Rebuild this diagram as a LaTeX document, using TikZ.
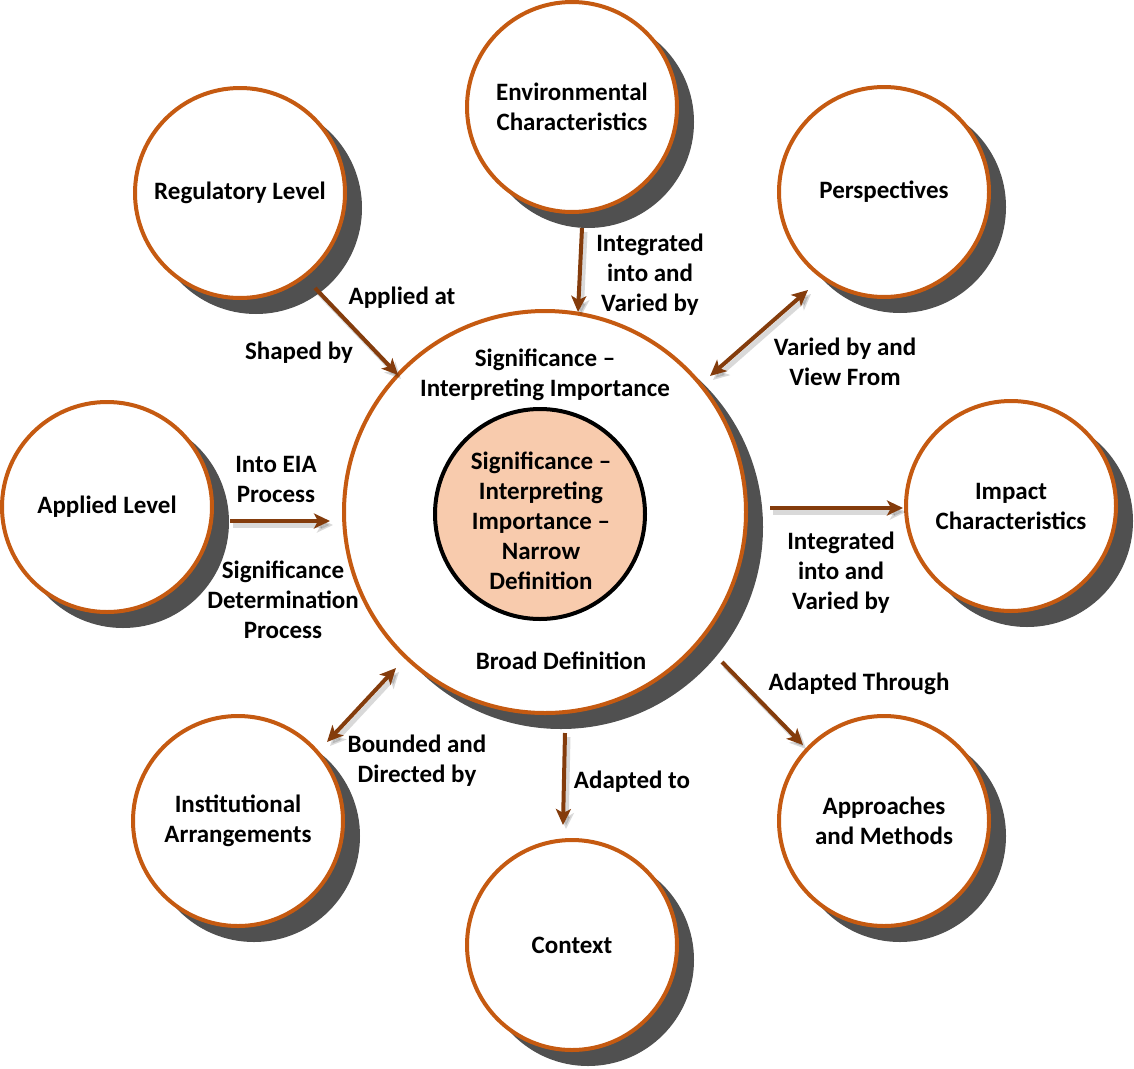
\documentclass[tikz,border=0pt]{standalone}
\usepackage{fontspec}
\setmainfont{Carlito}
\usetikzlibrary{arrows.meta,calc,backgrounds}
\definecolor{ring}{HTML}{C55A11}
\definecolor{shadowc}{HTML}{505050}
\definecolor{arrowc}{HTML}{843C0C}
\definecolor{peach}{HTML}{F8CBAD}
\newcommand\myarrow[3]{%
  \draw[arrsh,#3] ($#1+(3,4)$) -- ($#2+(3,4)$);
  \draw[arr,#3] ($#1$) -- ($#2$);}
\begin{document}
\begin{tikzpicture}[x=1pt,y=-1pt,
  lbl/.style={font=\bfseries\fontsize{25}{30}\selectfont, align=center, text=black, inner sep=0pt},
  bubble/.style={circle, draw=ring, line width=4pt, fill=white, minimum size=210pt, inner sep=0pt, lbl},
  tipA/.tip={Stealth[length=16pt,width=15pt,inset=4pt]},
  arr/.style={draw=arrowc, line width=4pt, -tipA},
  arrsh/.style={draw=black, opacity=0.15, line width=5pt, -tipA},
  both/.style={tipA-tipA},
]
\useasboundingbox (0,0) rectangle (1134,1068);
% circles
\node[bubble, minimum size=402pt] (big) at (545,512) {};
\node[circle, draw=black, line width=4pt, fill=peach, minimum size=210pt, inner sep=0pt] (inner) at (540,514) {};
\node[lbl] (innertxt) at (541,521) {Significance --\\Interpreting\\Importance --\\Narrow\\Definition};
\node[lbl] (bigtop) at (545,375) {Significance --\\Interpreting Importance};
\node[lbl] (bigbot) at (561,661) {Broad Definition};

\node[bubble] (env) at (572,107) {Environmental\\Characteristics};
\node[bubble] (reg) at (240,193) {Regulatory Level};
\node[bubble] (persp) at (884,192) {Perspectives};
\node[bubble] (applied) at (107,507) {Applied Level};
\node[bubble] (impact) at (1011,506) {Impact\\Characteristics};
\node[bubble] (inst) at (238,821) {Institutional\\Arrangements};
\node[bubble] (context) at (572,945) {Context};
\node[bubble] (appr) at (884,821) {Approaches\\and Methods};

\begin{scope}[on background layer]
  \fill[white] (0,0) rectangle (1134,1068);
  \foreach \n/\r in {big/202,env/106,reg/106,persp/106,applied/106,impact/106,inst/106,context/106,appr/106}
    \fill[shadowc] ($(\n)+(16,15)$) circle (\r pt);
  \fill[black, opacity=0.12] (inner) circle (110pt);
\end{scope}

% connectors
\myarrow{(reg)+(75,95)}{(big)+(-147,-137)}{}
\myarrow{(env)+(10,121)}{(big)+(33,-200)}{}
\myarrow{(persp)+(-76,98)}{(big)+(165,-136)}{both}
\myarrow{(applied)+(123,14)}{(big)+(-215,9)}{}
\myarrow{(big)+(225,-4)}{(impact)+(-108,2)}{}
\myarrow{(big)+(177,150)}{(appr)+(-81,-76)}{}
\myarrow{(big)+(20,221)}{(context)+(-9,-120)}{}
\myarrow{(inst)+(89,-79)}{(big)+(-149,156)}{both}

% labels
\node[lbl] (l1) at (402,298) {Applied at};
\node[lbl] (l2) at (299,353) {Shaped by};
\node[lbl] (l3) at (650,275) {Integrated\\into and\\Varied by};
\node[lbl] (l4) at (845,362) {Varied by and\\View From};
\node[lbl] (l5) at (276,479) {Into EIA\\Process};
\node[lbl] (l6) at (283,600) {Significance\\Determination\\Process};
\node[lbl] (l7) at (841,573) {Integrated\\into and\\Varied by};
\node[lbl] (l8) at (859,684) {Adapted Through};
\node[lbl] (l9) at (417,761) {Bounded and\\Directed by};
\node[lbl] (l10) at (632,782) {Adapted to};
\end{tikzpicture}
\end{document}
